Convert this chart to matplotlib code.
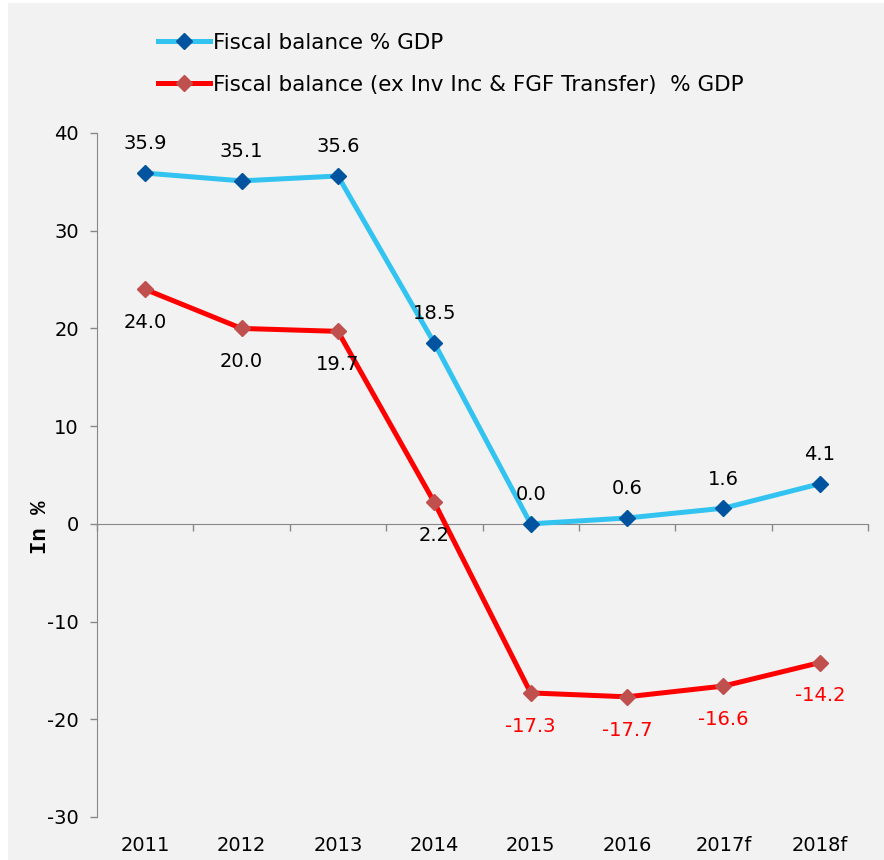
import matplotlib.pyplot as plt
from matplotlib.ticker import FixedLocator

years = ['2011', '2012', '2013', '2014', '2015', '2016', '2017f', '2018f']
fiscal_balance = [35.9, 35.1, 35.6, 18.5, 0.0, 0.6, 1.6, 4.1]
fiscal_ex_inv = [24.0, 20.0, 19.7, 2.2, -17.3, -17.7, -16.6, -14.2]

plt.rcParams['font.family'] = ['DejaVu Sans']
plt.rcParams['axes.unicode_minus'] = False
bg = '#f2f2f2'

fig = plt.figure(figsize=(8.84, 8.6), dpi=100, facecolor=bg)
# thin white margin at top and left
fig.patches.append(plt.Rectangle((0, 0), 8 / 884, 1, transform=fig.transFigure,
                                 facecolor='white', edgecolor='none', zorder=-10))
fig.patches.append(plt.Rectangle((0, 1 - 3 / 860), 1, 3 / 860, transform=fig.transFigure,
                                 facecolor='white', edgecolor='none', zorder=-10))
ax = fig.add_axes([97 / 884, 1 - 817 / 860, (868 - 97) / 884, (817 - 133) / 860])
ax.set_facecolor(bg)

x = list(range(len(years)))
l1, = ax.plot(x, fiscal_balance, color='#33c3f0', lw=3.6, marker='D', ms=8.5,
              mfc='#00549f', mec='#00549f', label='Fiscal balance % GDP', zorder=3)
l2, = ax.plot(x, fiscal_ex_inv, color='#ff0000', lw=3.6, marker='D', ms=8.5,
              mfc='#c0504d', mec='#c0504d',
              label='Fiscal balance (ex Inv Inc & FGF Transfer)  % GDP', zorder=3)

fs = 14
for xi, v in zip(x, fiscal_balance):
    ax.annotate(f'{v:.1f}', (xi, v), xytext=(0, 21), textcoords='offset points',
                ha='center', va='center', fontsize=fs, color='black')
for xi, v in zip(x, fiscal_ex_inv):
    ax.annotate(f'{v:.1f}', (xi, v), xytext=(0, -24), textcoords='offset points',
                ha='center', va='center', fontsize=fs,
                color='red' if v < 0 else 'black')

ax.set_xlim(-0.5, len(years) - 0.5)
ax.set_ylim(-30, 40)
ax.set_yticks(range(-30, 41, 10))
ax.tick_params(axis='y', labelsize=fs, length=5, width=1, color='#888888', pad=8)

for s in ['top', 'right']:
    ax.spines[s].set_visible(False)
ax.spines['left'].set_color('#888888')
ax.spines['bottom'].set_color('#888888')
ax.spines['bottom'].set_position(('data', 0))

ax.set_xticks([])
ax.xaxis.set_minor_locator(FixedLocator([i - 0.5 for i in range(len(years) + 1)]))
ax.tick_params(axis='x', which='minor', length=5, width=1, color='#888888', direction='out')
for xi, lab in zip(x, years):
    ax.text(xi, -0.041, lab, transform=ax.get_xaxis_transform(), ha='center', va='center',
            fontsize=fs)

ax.set_ylabel('In %', fontsize=16, fontweight='bold', family='Liberation Mono')
ax.yaxis.set_label_coords(-0.06, 0.424)

fig.legend(handles=[l1, l2], loc='upper left', bbox_to_anchor=(158 / 884, 1 - 33 / 860),
           frameon=False, fontsize=15.5, numpoints=1, handlelength=2.4, handletextpad=0.15,
           labelspacing=1.0, borderpad=0, borderaxespad=0)

fig.savefig('out.png', dpi=100, facecolor=bg)
